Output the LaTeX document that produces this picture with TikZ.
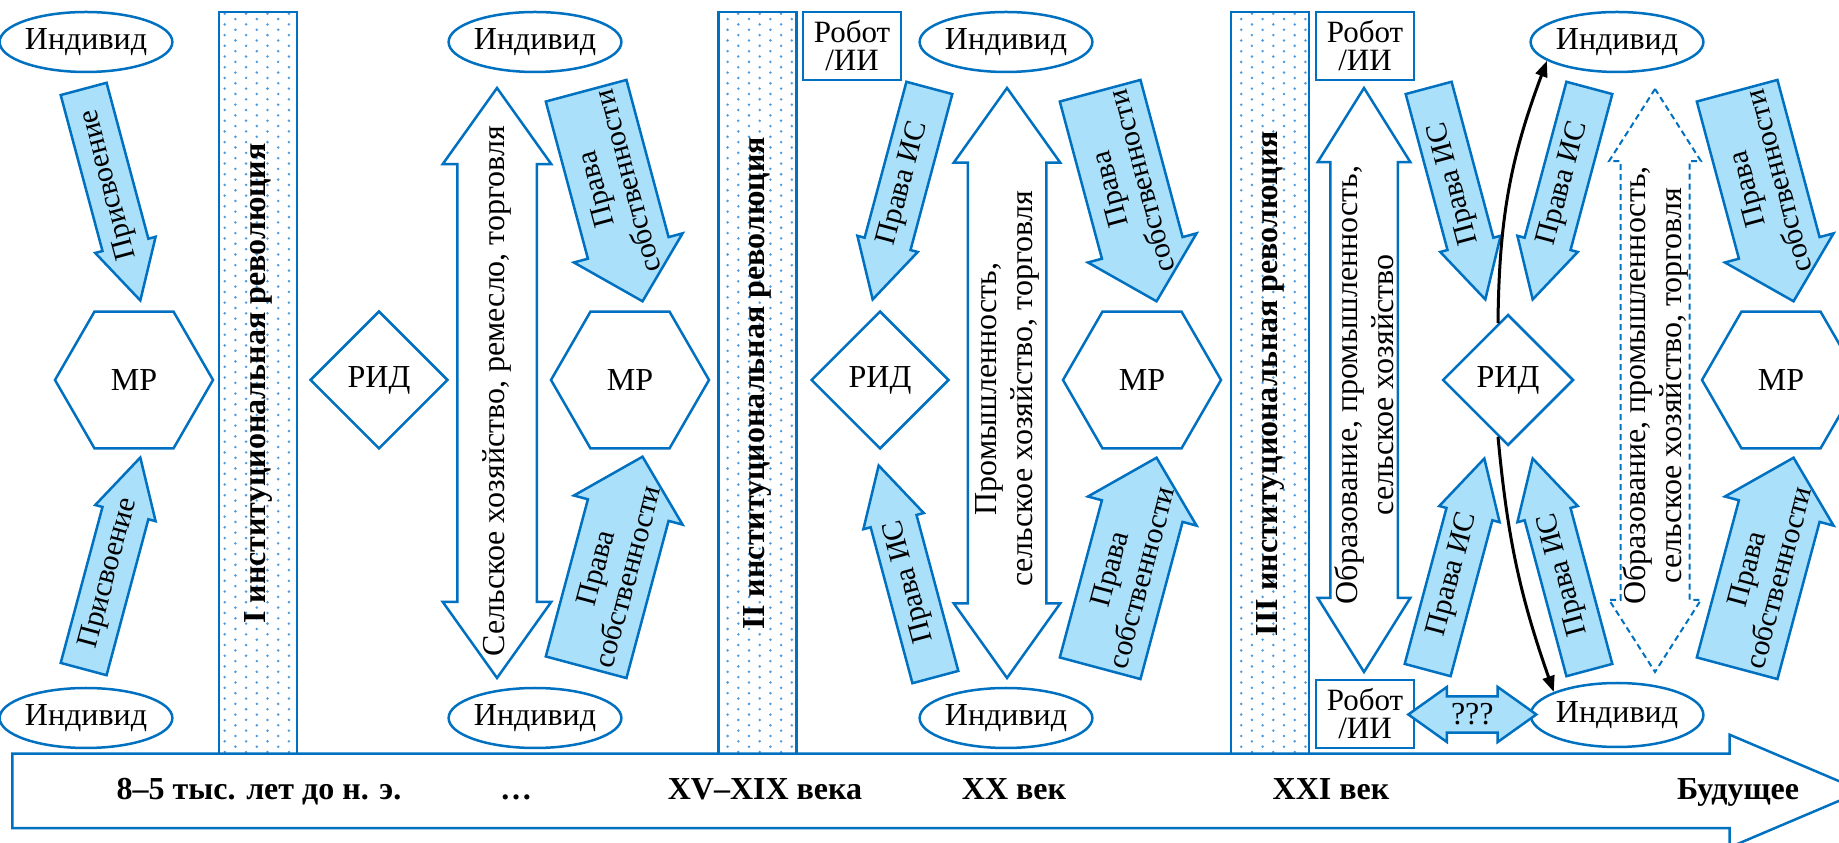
\documentclass[tikz,border=0pt]{standalone}
\usepackage{fontspec}
\setmainfont{Liberation Serif}
\usetikzlibrary{shapes.geometric,shapes.arrows,arrows.meta,calc,patterns}

\definecolor{lineblue}{RGB}{0,112,192}
\definecolor{arrowblue}{RGB}{170,224,250}
\definecolor{dotblue}{RGB}{80,155,220}

% dotted fill of the revolution bars
\pgfdeclarepatternformonly{bardots}{\pgfqpoint{-2pt}{-2pt}}{\pgfqpoint{13pt}{8pt}}{\pgfqpoint{21.4pt}{10.7pt}}{%
  \pgfpathcircle{\pgfqpoint{0pt}{0pt}}{1.4pt}%
  \pgfpathcircle{\pgfqpoint{10.7pt}{5.35pt}}{1.4pt}%
  \pgfusepath{fill}}

\tikzset{
  outline/.style={draw=lineblue, line width=2.5pt},
  indiv/.style={outline, ellipse, fill=white, minimum width=151pt, minimum height=60pt, inner sep=0pt},
  mr/.style={outline, regular polygon, regular polygon sides=6, minimum size=158pt, inner sep=0pt},
  rid/.style={outline, diamond, minimum width=138pt, minimum height=138pt, inner sep=0pt},
  robot/.style={outline, rectangle, minimum width=98pt, minimum height=68pt, inner sep=0pt, align=center, font=\fontsize{31}{28}\selectfont},
  revbar/.style={outline, rectangle, pattern=bardots, pattern color=dotblue, minimum width=743pt, minimum height=78pt, rotate=90, font=\fontsize{32}{36}\selectfont\bfseries},
  thinarrow/.style={outline, fill=arrowblue, single arrow, inner xsep=0pt, inner ysep=22.5pt, minimum height=219pt, single arrow head extend=7.5pt, single arrow tip angle=57},
  widearrow/.style={outline, fill=arrowblue, single arrow, inner xsep=0pt, inner ysep=40.5pt, minimum height=218pt, single arrow head extend=14.5pt, single arrow tip angle=91},
  backward/.style={shape border rotate=180},
  arrowtext/.style={align=center, font=\fontsize{30}{33}\selectfont},
  bigarrow/.style={outline, fill=white, double arrow, inner xsep=0pt, rotate=90},
  era/.style={anchor=base, font=\fontsize{32}{36}\selectfont\bfseries},
  link/.style={-{Triangle[length=16pt,width=12pt]}, line width=3pt},
}

\begin{document}
\begin{tikzpicture}[x=1pt, y=1pt, font=\fontsize{32}{36}\selectfont]
\useasboundingbox (0,0) rectangle (1839,843);

% Revolutions
\node[revbar] (rev1) at (258,459.5) {I институциональная революция};
\node[revbar] (rev2) at (757.5,459.5) {II институциональная революция};
\node[revbar] (rev3) at (1270,459.5) {III институциональная революция};

% Time axis
\node[outline, fill=white, single arrow, inner xsep=0pt, inner ysep=36pt, minimum height=1850pt, single arrow head extend=19pt, single arrow tip angle=46, anchor=tail] (time) at (11,52) {};
\node[era] (t1) at (259,43) {8–5 тыс. лет до н. э.};
\node[era] (t2) at (516,43) {…};
\node[era] (t3) at (765,43) {XV–XIX века};
\node[era] (t4) at (1014,43) {XX век};
\node[era] (t5) at (1331,43) {XXI век};
\node[era] (t6) at (1738,43) {Будущее};

% Individuals
\node[indiv] (ind1) at (86,801) {Индивид};
\node[indiv] (ind2) at (86,125) {Индивид};
\node[indiv] (ind3) at (535,801) {Индивид};
\node[indiv] (ind4) at (535,125) {Индивид};
\node[indiv] (ind5) at (1006,801) {Индивид};
\node[indiv] (ind6) at (1006,125) {Индивид};
\node[indiv] (ind7) at (1617,801) {Индивид};
\node[indiv, minimum height=64pt] (ind8) at (1617,128) {Индивид};

% Robots
\node[robot] (rob1) at (852,797) {Робот\\/ИИ};
\node[robot] (rob2) at (1365,797) {Робот\\/ИИ};
\node[robot] (rob3) at (1365,129) {Робот\\/ИИ};

% MP and RID
\node[mr] (mr1) at (134,463) {МР};
\node[mr] (mr2) at (630,463) {МР};
\node[mr] (mr3) at (1142,463) {МР};
\node[mr] (mr4) at (1781,463) {МР};
\node[rid] (rid1) at (379,463) {РИД};
\node[rid] (rid2) at (880,463) {РИД};
\node[rid, minimum width=131pt, minimum height=131pt] (rid3) at (1508,463) {РИД};

% Economy
\node[bigarrow, inner ysep=38.5pt, minimum height=590pt, double arrow head extend=14.5pt, double arrow tip angle=71] (eco1) at (497,460) {};
\node[rotate=90] (eco1l) at ($(eco1.center)+(0,-8)$) {Сельское хозяйство, ремесло, торговля};
\node[bigarrow, inner ysep=38pt, minimum height=590pt, double arrow head extend=14pt, double arrow tip angle=71] (eco2) at (1007,460) {};
\node[rotate=90, align=center] (eco2l) at ($(eco2.center)+(0,-6)$) {Промышленность,\\сельское хозяйство, торговля};
\node[bigarrow, inner ysep=32.5pt, minimum height=584pt, double arrow head extend=12.5pt, double arrow tip angle=64] (eco3) at (1364,463) {};
\node[rotate=90, align=center] (eco3l) at ($(eco3.center)+(0,-5)$) {Образование, промышленность,\\сельское хозяйство};
\node[bigarrow, dash pattern=on 6pt off 4pt, line width=2pt, inner ysep=33.5pt, minimum height=583pt, double arrow head extend=11.5pt, double arrow tip angle=65] (eco4) at (1655,462.5) {};
\node[rotate=90, align=center] (eco4l) at ($(eco4.center)+(0,-5)$) {Образование, промышленность,\\сельское хозяйство, торговля};

% Rights
\node[thinarrow, backward, rotate=105, anchor=tip] (pris1) at (141,540) {};
\node[arrowtext, rotate=105] (pris1l) at ($(pris1.tail)!.45!(pris1.tip)$) {Присвоение};
\node[thinarrow, rotate=75, anchor=tip] (pris2) at (141,388) {};
\node[arrowtext, rotate=75] (pris2l) at ($(pris2.tail)!.45!(pris2.tip)$) {Присвоение};

\node[widearrow, backward, rotate=105, anchor=tip] (ps1) at (643,540) {};
\node[arrowtext, rotate=105] (ps1l) at ($(ps1.tail)!.45!(ps1.tip)$) {Права\\собственности};
\node[widearrow, rotate=75, anchor=tip] (ps2) at (643,388) {};
\node[arrowtext, rotate=75] (ps2l) at ($(ps2.tail)!.45!(ps2.tip)$) {Права\\собственности};
\node[widearrow, backward, rotate=105, anchor=tip] (ps3) at (1157,540) {};
\node[arrowtext, rotate=105] (ps3l) at ($(ps3.tail)!.45!(ps3.tip)$) {Права\\собственности};
\node[widearrow, rotate=75, anchor=tip] (ps4) at (1157,387) {};
\node[arrowtext, rotate=75] (ps4l) at ($(ps4.tail)!.45!(ps4.tip)$) {Права\\собственности};
\node[widearrow, backward, rotate=105, anchor=tip] (ps5) at (1794,540) {};
\node[arrowtext, rotate=105] (ps5l) at ($(ps5.tail)!.45!(ps5.tip)$) {Права\\собственности};
\node[widearrow, rotate=75, anchor=tip] (ps6) at (1794,387) {};
\node[arrowtext, rotate=75] (ps6l) at ($(ps6.tail)!.45!(ps6.tip)$) {Права\\собственности};

\node[thinarrow, backward, rotate=75, anchor=tip] (is1) at (872,541) {};
\node[arrowtext, rotate=75] (is1l) at ($(is1.tail)!.45!(is1.tip)$) {Права ИС};
\node[thinarrow, rotate=105, anchor=tip] (is2) at (878,380) {};
\node[arrowtext, rotate=105] (is2l) at ($(is2.tail)!.45!(is2.tip)$) {Права ИС};
\node[thinarrow, backward, rotate=105, anchor=tip] (is3) at (1486,541) {};
\node[arrowtext, rotate=105] (is3l) at ($(is3.tail)!.45!(is3.tip)$) {Права ИС};
\node[thinarrow, rotate=75, anchor=tip] (is4) at (1485,387) {};
\node[arrowtext, rotate=75] (is4l) at ($(is4.tail)!.45!(is4.tip)$) {Права ИС};
\node[thinarrow, backward, rotate=75, anchor=tip] (is5) at (1532,541) {};
\node[arrowtext, rotate=75] (is5l) at ($(is5.tail)!.45!(is5.tip)$) {Права ИС};
\node[thinarrow, rotate=105, anchor=tip] (is6) at (1532,387) {};
\node[arrowtext, rotate=105] (is6l) at ($(is6.tail)!.45!(is6.tip)$) {Права ИС};

% Robot and individual
\node[outline, fill=arrowblue, double arrow, inner xsep=0pt, inner ysep=6pt, minimum height=128pt, double arrow head extend=9.5pt, double arrow tip angle=71] (ask) at ($(rob3.east)!.5!(ind8.west)$) {???};
\draw[link] (rid3.100) to[bend left=10] (ind7.195);
\draw[link] (rid3.260) to[bend right=7] (ind8.160);
\end{tikzpicture}
\end{document}
